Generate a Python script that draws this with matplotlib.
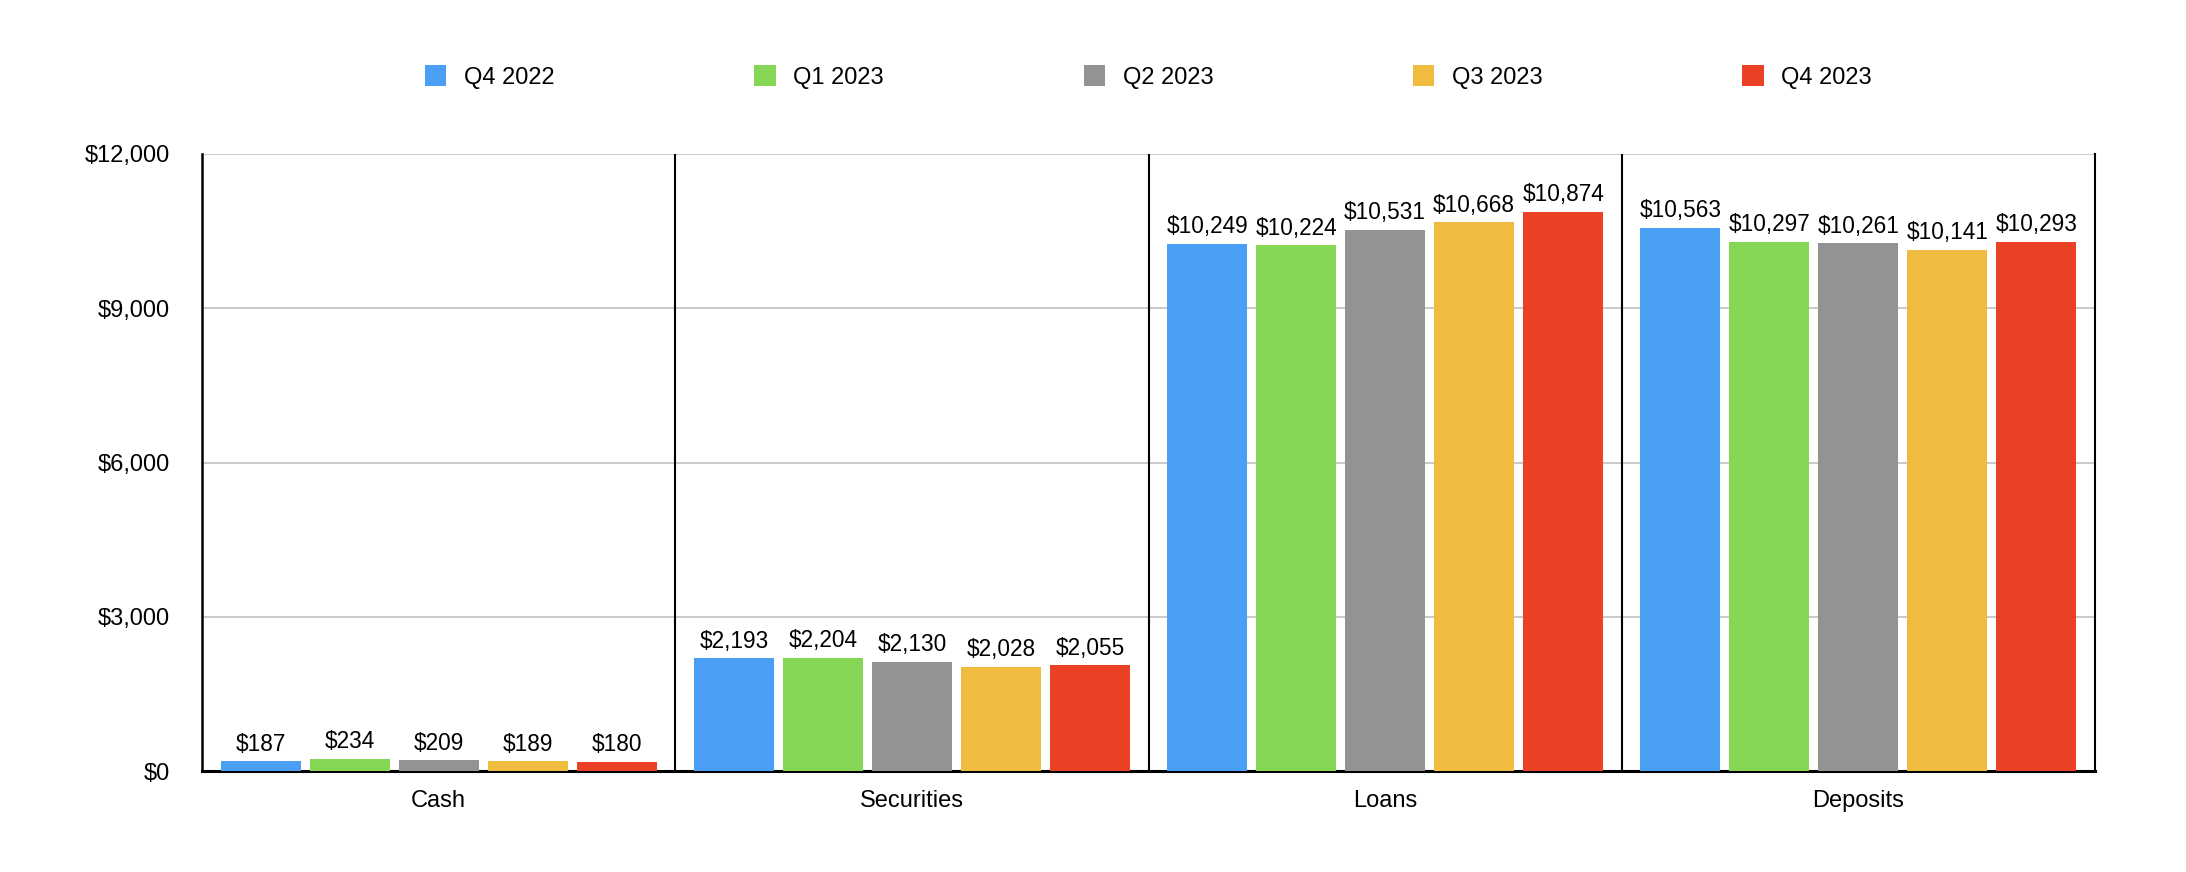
import matplotlib
matplotlib.use("Agg")
import matplotlib.pyplot as plt
import numpy as np

plt.rcParams['font.family'] = ['Liberation Sans', 'DejaVu Sans']

categories = ["Cash", "Securities", "Loans", "Deposits"]
quarters = ["Q4 2022", "Q1 2023", "Q2 2023", "Q3 2023", "Q4 2023"]
q4_2022 = [187, 2193, 10249, 10563]
q1_2023 = [234, 2204, 10224, 10297]
q2_2023 = [209, 2130, 10531, 10261]
q3_2023 = [189, 2028, 10668, 10141]
q4_2023 = [180, 2055, 10874, 10293]
series = [q4_2022, q1_2023, q2_2023, q3_2023, q4_2023]
colors = ["#4a9ff5", "#84d654", "#939393", "#efbc40", "#ea4125"]
yticks = [0, 3000, 6000, 9000, 12000]

fig = plt.figure(figsize=(21.86, 8.72), dpi=100)
ax = fig.add_axes([0.0924, 0.1158, 0.866, 0.7076])

x = np.arange(len(categories))
width = 0.169
step = 0.188
for i, (vals, col, lab) in enumerate(zip(series, colors, quarters)):
    bars = ax.bar(x + (i - 2) * step, vals, width, color=col, label=lab, zorder=3)
    ax.bar_label(bars, labels=["${:,}".format(v) for v in vals], padding=4,
                 fontsize=16.3, color="black")

ax.set_xlim(-0.5, len(categories) - 0.5)
ax.set_ylim(0, 12000)
ax.set_yticks(yticks)
ax.set_yticklabels(["${:,}".format(t) for t in yticks])
ax.set_xticks(x)
ax.set_xticklabels(categories)
ax.tick_params(axis='y', length=0, pad=23, labelsize=17)
ax.tick_params(axis='x', length=0, pad=14, labelsize=17)
ax.grid(axis='y', color="#c0c0c0", linewidth=1.2, zorder=0)

# dividers between groups
for b in x[:-1] + 0.5:
    ax.axvline(b, color="black", linewidth=1.5, zorder=4)

ax.spines['top'].set_visible(False)
ax.spines['left'].set_linewidth(1.8)
ax.spines['right'].set_linewidth(1.5)
ax.spines['bottom'].set_linewidth(2.2)

fig.legend(loc="center", bbox_to_anchor=(0.0924 + 0.866 / 2, 1 - 77 / 872), ncol=5,
           frameon=False, fontsize=17, handlelength=0.9, handleheight=1.0,
           handletextpad=0.76, columnspacing=8.45)

fig.savefig("out.png", dpi=100)
